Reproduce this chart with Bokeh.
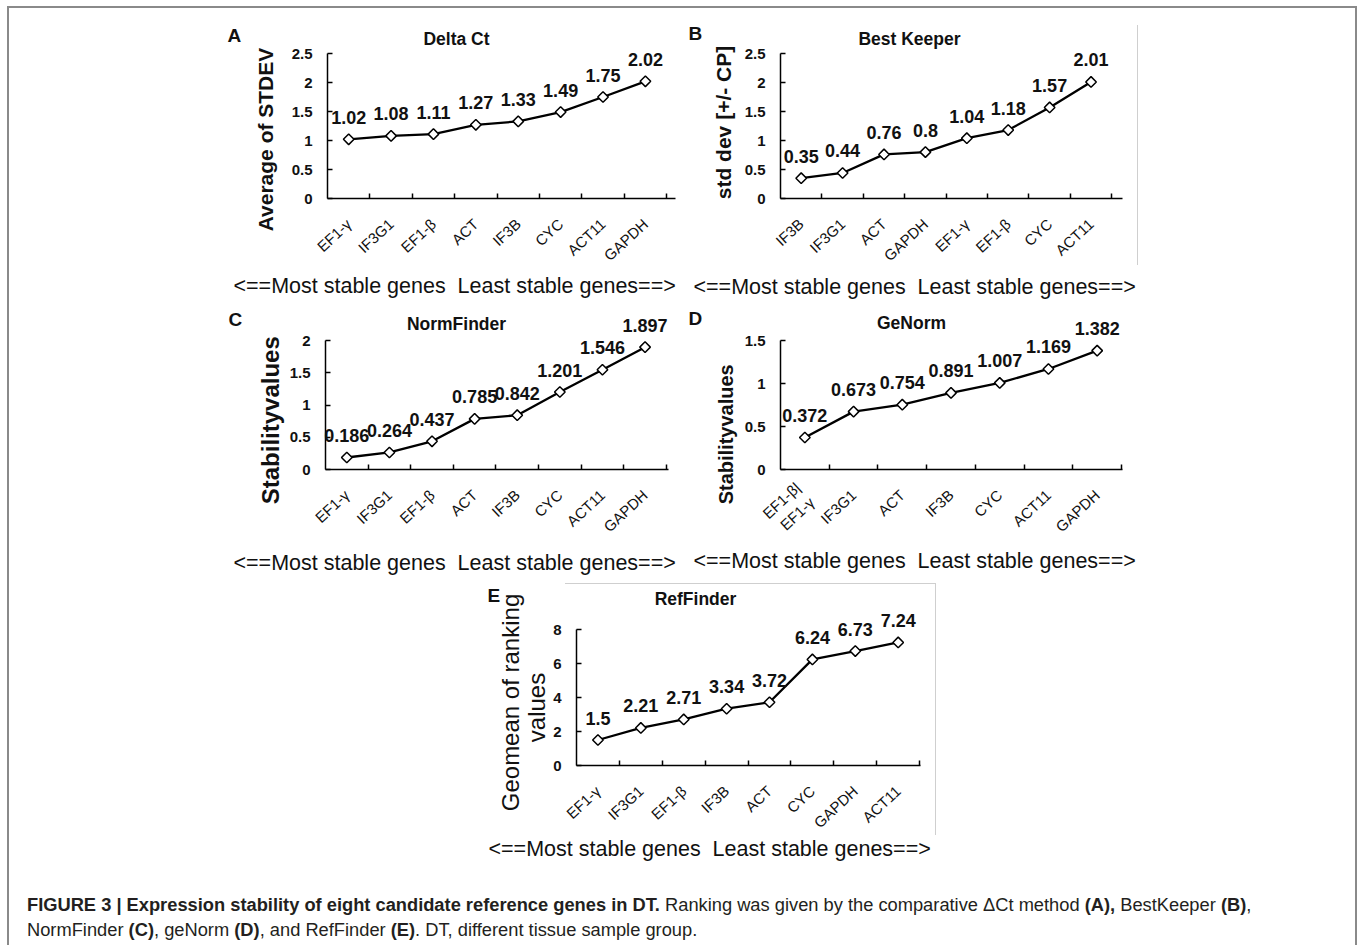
import math
from bokeh.plotting import figure
from bokeh.models import FixedTicker, NumeralTickFormatter, Range1d, Spacer, Div, ColumnDataSource
from bokeh.layouts import column, row
from bokeh.embed import file_html
from bokeh.resources import INLINE
from bokeh.core.properties import value

FONT = "Liberation Sans"
INK = "#111111"

# ---------------- data ----------------
a_genes = ["EF1-γ", "IF3G1", "EF1-β", "ACT", "IF3B", "CYC", "ACT11", "GAPDH"]
a_vals = [1.02, 1.08, 1.11, 1.27, 1.33, 1.49, 1.75, 2.02]

b_genes = ["IF3B", "IF3G1", "ACT", "GAPDH", "EF1-γ", "EF1-β", "CYC", "ACT11"]
b_vals = [0.35, 0.44, 0.76, 0.8, 1.04, 1.18, 1.57, 2.01]

c_genes = ["EF1-γ", "IF3G1", "EF1-β", "ACT", "IF3B", "CYC", "ACT11", "GAPDH"]
c_vals = [0.186, 0.264, 0.437, 0.785, 0.842, 1.201, 1.546, 1.897]

d_genes = ["EF1-β|\nEF1-γ", "IF3G1", "ACT", "IF3B", "CYC", "ACT11", "GAPDH"]
d_vals = [0.372, 0.673, 0.754, 0.891, 1.007, 1.169, 1.382]

e_genes = ["EF1-γ", "IF3G1", "EF1-β", "IF3B", "ACT", "CYC", "GAPDH", "ACT11"]
e_vals = [1.5, 2.21, 2.71, 3.34, 3.72, 6.24, 6.73, 7.24]

y_ticks_a = [0, 0.5, 1, 1.5, 2, 2.5]
y_ticks_c = [0, 0.5, 1, 1.5, 2]
y_ticks_d = [0, 0.5, 1, 1.5]
y_ticks_e = [0, 2, 4, 6, 8]

FOOTER = "<==Most stable genes \u00a0Least stable genes==>"


def panel(genes, vals, yticks, origin, w, h, mbl, mbr, mbt, mbb, x_end,
          letter, letter_xy, title, title_xy, ylabels, footer_xy, styles=None):
    n = len(genes)
    xs = list(range(1, n + 1))
    y0, y1 = yticks[0], yticks[-1]
    src = ColumnDataSource(dict(x=xs, y=vals, t=[f"{v:g}" for v in vals]))
    p = figure(width=w, height=h, output_backend="svg", toolbar_location=None,
               x_range=Range1d(0.5, x_end), y_range=Range1d(y0, y1),
               min_border_left=mbl, min_border_right=mbr,
               min_border_top=mbt, min_border_bottom=mbb,
               styles=styles or {})
    p.outline_line_color = None
    p.background_fill_color = None
    p.border_fill_color = None
    p.xgrid.visible = False
    p.ygrid.visible = False

    p.line("x", "y", source=src, line_color="black", line_width=2.3)
    p.scatter("x", "y", source=src, marker="square", angle=math.pi / 4, size=7.5,
              fill_color="white", line_color="black", line_width=1.5)
    p.text("x", "y", text="t", source=src, y_offset=-22, text_align="center",
           text_baseline="middle", text_font=value(FONT), text_font_size="18px",
           text_font_style="bold", text_color=INK, level="overlay")

    xa = p.xaxis[0]
    xa.ticker = FixedTicker(ticks=xs, minor_ticks=[i + 0.5 for i in xs])
    xa.major_label_overrides = {i + 1: g for i, g in enumerate(genes)}
    xa.major_label_orientation = 0.75
    xa.major_tick_in = 0
    xa.major_tick_out = 0
    xa.minor_tick_in = 5
    xa.minor_tick_out = 0
    xa.minor_tick_line_color = "black"
    xa.minor_tick_line_width = 1.5
    xa.axis_line_width = 1.5
    xa.major_label_standoff = 23
    xa.major_label_text_font = FONT
    xa.major_label_text_font_size = "15px"
    xa.major_label_text_color = INK

    ya = p.yaxis[0]
    ya.ticker = FixedTicker(ticks=yticks)
    ya.formatter = NumeralTickFormatter(format="0.[0]")
    ya.major_tick_in = 5
    ya.major_tick_out = 0
    ya.major_tick_line_width = 1.5
    ya.minor_tick_line_color = None
    ya.axis_line_width = 1.5
    ya.major_label_standoff = 15
    ya.major_label_text_font = FONT
    ya.major_label_text_font_size = "15px"
    ya.major_label_text_font_style = "bold"
    ya.major_label_text_color = INK

    # frame geometry (page pixels) used to place the annotation texts
    fl = origin[0] + mbl
    ft = origin[1] + mbt
    fh = h - mbt - mbb
    fb = ft + fh

    def note(X, Y, text, size, style, align):
        # anchored at the frame's bottom-left corner, shifted in screen pixels
        p.text(x=[0.5], y=[y0], text=[text], x_offset=X - fl, y_offset=Y - fb,
               text_align=align, text_baseline="middle", text_font=value(FONT),
               text_font_size=size, text_font_style=style, text_color=INK,
               level="overlay")

    def vnote(X, Y, text, size, style):
        yd = y0 + (fb - Y) / fh * (y1 - y0)
        p.text(x=[0.5], y=[yd], text=[text], x_offset=X - fl, y_offset=0,
               angle=math.pi / 2, text_align="center", text_baseline="middle",
               text_font=value(FONT), text_font_size=size, text_font_style=style,
               text_color=INK, level="overlay")

    note(letter_xy[0], letter_xy[1], letter, "19px", "bold", "left")
    note(title_xy[0], title_xy[1], title, "17.5px", "bold", "center")
    for (t, X, Y, size, style) in ylabels:
        vnote(X, Y, t, size, style)
    note(footer_xy[0], footer_xy[1], FOOTER, "21.5px", "normal", "left")
    return p


GRAY = "linear-gradient(#cfcfcf, #cfcfcf)"

pA = panel(a_genes, a_vals, y_ticks_a, (220, 20), 460, 280, 107, 5, 33, 102, 8.71,
           "A", (227, 35), "Delta Ct", (456, 38),
           [("Average of STDEV", 265, 139, "21px", "bold")], (233, 285))
pB = panel(b_genes, b_vals, y_ticks_a, (680, 20), 460, 280, 100, 18, 33, 102, 8.76,
           "B", (688, 33), "Best Keeper", (909, 38),
           [("std dev [+/- CP]", 723, 122, "21px", "bold")], (693, 286),
           styles={"background-image": GRAY, "background-repeat": "no-repeat",
                   "background-size": "1px 240px", "background-position": "457px 5px"})
pC = panel(c_genes, c_vals, y_ticks_c, (220, 300), 460, 275, 105, 12, 38, 106, 8.55,
           "C", (228, 319), "NormFinder", (456, 323),
           [("Stabilityvalues", 270, 419, "24px", "bold")], (233, 562))
pD = panel(d_genes, d_vals, y_ticks_d, (680, 300), 460, 275, 100, 18, 40, 103, 7.52,
           "D", (688, 321), "GeNorm", (911, 325),
           [("Stabilityvalues", 725, 436, "20px", "bold")], (693, 563))
pE = panel(e_genes, e_vals, y_ticks_e, (480, 575), 460, 290, 96, 20, 54, 100, 8.52,
           "E", (487, 595), "RefFinder", (695, 598),
           [("Geomean of ranking", 510, 702, "24px", "normal"),
            ("values", 536, 707, "24px", "normal")], (488, 848),
           styles={"background-image": GRAY + ", " + GRAY,
                   "background-repeat": "no-repeat, no-repeat",
                   "background-size": "371px 1px, 1px 252px",
                   "background-position": "85px 8px, 455px 8px"})

caption = Div(
    text=('<div style="margin-top:22px; line-height:25px;">'
          '<b>FIGURE 3 | Expression stability of eight candidate reference genes in DT.</b> '
          'Ranking was given by the comparative ΔCt method <b>(A),</b> BestKeeper <b>(B)</b>,<br>'
          'NormFinder <b>(C)</b>, geNorm <b>(D)</b>, and RefFinder <b>(E)</b>. '
          'DT, different tissue sample group.</div>'),
    width=1320, height=80,
    styles={"font-family": FONT, "font-size": "18.3px", "color": "#231f20"})

inner = column(
    Spacer(width=1350, height=14),
    row(Spacer(width=213, height=280), pA, pB),
    row(Spacer(width=213, height=275), pC, pD),
    row(Spacer(width=473, height=290), pE),
    row(Spacer(width=15, height=80), caption),
    styles={"box-shadow": "inset 2px 0 0 #8a8a8a, inset -2px 0 0 #8a8a8a, inset 0 2px 0 #8a8a8a"},
)

layout = column(Spacer(width=1357, height=6), row(Spacer(width=7, height=10), inner))

open("out.html", "w").write(file_html(layout, INLINE))
